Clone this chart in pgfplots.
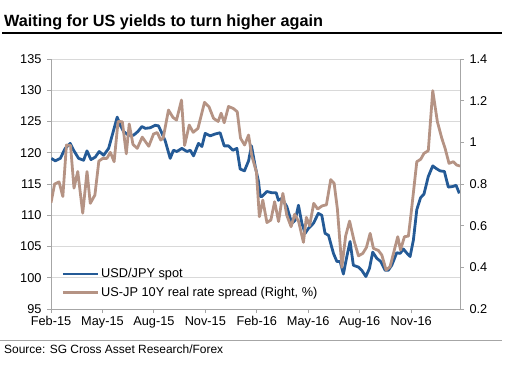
\documentclass[border=0pt]{standalone}
\usepackage{fontspec}
\setmainfont{Liberation Sans}
\usepackage{pgfplots}
\pgfplotsset{compat=1.18}
\definecolor{usdblue}{HTML}{245A96}
\definecolor{spreadbrown}{HTML}{B59384}
\definecolor{axgray}{HTML}{A6A6A6}
\definecolor{gridgray}{HTML}{D9D9D9}

\pgfplotsset{
  commonax/.style={
    at={(51bp,55bp)}, anchor=south west,
    width=409bp, height=250bp, scale only axis,
    xmin=0, xmax=23.85,
    /pgf/number format/assume math mode=true,
    tick label style={font=\fontsize{12.8}{14}\selectfont, text=black},
    tick align=outside, major tick length=4bp,
    tick style={axgray, line width=0.8bp},
    axis line style={axgray, line width=0.9bp},
  }
}

\begin{document}
\begin{tikzpicture}[x=1bp,y=1bp]
\path[use as bounding box] (0,0) rectangle (505,364);
\node[anchor=base west, font=\fontsize{16.3}{18}\selectfont\bfseries, inner sep=0] at (4,338) {Waiting for US yields to turn higher again};
\draw[line width=2.2bp] (2,331) -- (502,331);
\draw[axgray, line width=0.9bp] (0,24) -- (502,24);
\node[anchor=base west, font=\fontsize{12}{14}\selectfont, inner sep=0] at (4,11) {Source: SG Cross Asset Research/Forex};

% left axis: USD/JPY
\begin{axis}[commonax,
  ymin=95, ymax=135, ytick={95,100,...,135},
  xtick={0,3,...,21},
  xticklabels={Feb-15,May-15,Aug-15,Nov-15,Feb-16,May-16,Aug-16,Nov-16},
  axis x line*=bottom, axis y line*=left,
  ymajorgrids, grid style={gridgray, line width=0.9bp},
  yticklabel style={xshift=-2bp},
]
\addplot[usdblue, line width=2.8bp, line join=round] coordinates {
(0.02,119.1)(0.25,118.7)(0.54,119.1)(0.83,120.7)(1.12,121.5)(1.32,120.4)
(1.61,119.1)(1.90,118.8)(2.10,120.3)(2.33,118.9)(2.58,119.3)(2.81,120.2)
(3.07,119.6)(3.36,120.7)(3.65,123.6)(3.86,125.7)(4.04,124.4)(4.23,123.4)
(4.52,122.8)(4.81,122.8)(5.07,123.4)(5.30,124.2)(5.50,123.9)(5.79,124.0)
(6.08,124.4)(6.27,124.3)(6.47,123.1)(6.66,121.9)(6.95,119.1)(7.14,120.4)
(7.34,120.2)(7.63,120.7)(7.93,120.2)(8.12,120.4)(8.31,119.5)(8.60,121.5)
(8.80,121.0)(8.99,123.1)(9.28,122.7)(9.57,123.0)(9.86,123.2)(10.10,121.1)
(10.35,121.1)(10.61,120.4)(10.84,120.7)(11.03,117.4)(11.28,117.1)(11.52,118.7)
(11.69,121.1)(11.91,117.8)(12.10,115.4)(12.20,113.0)(12.30,113.0)(12.59,113.8)
(12.88,113.6)(13.13,113.6)(13.26,112.4)(13.46,112.7)(13.75,111.4)(14.04,108.7)
(14.24,109.2)(14.43,111.6)(14.63,108.7)(14.82,107.1)(15.01,107.9)(15.30,108.7)
(15.59,110.3)(15.79,110.0)(15.98,107.1)(16.18,106.8)(16.47,103.9)(16.67,102.6)
(16.86,102.6)(17.05,100.6)(17.25,103.4)(17.44,105.8)(17.63,102.0)(17.93,101.7)
(18.12,101.2)(18.36,100.2)(18.57,101.5)(18.76,104.1)(19.00,103.1)(19.23,102.6)
(19.48,101.2)(19.67,101.2)(19.87,102.0)(20.16,104.0)(20.36,103.9)(20.55,104.6)
(20.73,104.0)(20.94,103.4)(21.13,106.0)(21.33,110.9)(21.55,112.8)(21.75,113.4)
(22.00,116.2)(22.26,117.9)(22.45,117.5)(22.69,117.1)(22.94,117.0)(23.17,114.5)
(23.43,114.6)(23.62,114.8)(23.81,113.5)
};
\end{axis}

% right axis: real rate spread
\begin{axis}[commonax,
  ymin=0.2, ymax=1.4, ytick={0.2,0.4,...,1.4},
  yticklabel style={/pgf/number format/fixed, /pgf/number format/precision=1, xshift=2bp},
  axis x line=none, axis y line*=right,
  legend cell align=left,
  legend style={draw=none, fill=none, at={(0.025,0.035)}, anchor=south west,
    font=\fontsize{12.8}{14}\selectfont, row sep=4bp, inner sep=0pt},
  legend image code/.code={\draw[#1] (0bp,0bp) -- (35bp,0bp);},
]
\addlegendimage{usdblue, line width=2.8bp}
\addlegendentry{USD/JPY spot}
\addplot[spreadbrown, line width=2.8bp, line join=round] coordinates {
(0,0.71)(0.21,0.80)(0.47,0.81)(0.69,0.74)(0.90,0.987)(1.14,0.985)
(1.34,0.78)(1.56,0.86)(1.85,0.66)(2.10,0.86)(2.29,0.707)(2.56,0.747)
(2.79,0.91)(3.02,0.923)(3.26,0.923)(3.46,0.952)(3.68,0.907)(3.91,1.10)
(4.16,1.099)(4.39,0.945)(4.56,1.088)(4.78,0.99)(5.03,0.971)(5.32,1.025)
(5.70,0.981)(5.98,1.04)(6.19,1.047)(6.40,1.011)(6.54,1.02)(6.85,1.155)
(7.11,1.12)(7.32,1.107)(7.61,1.203)(7.79,0.985)(8.06,1.083)(8.29,1.048)
(8.57,1.067)(8.95,1.192)(9.21,1.171)(9.48,1.115)(9.75,1.10)(9.92,1.14)
(10.10,1.094)(10.35,1.172)(10.62,1.163)(10.86,1.147)(11.05,1.02)(11.29,0.987)
(11.52,1.035)(11.71,0.935)(11.98,0.857)(12.15,0.643)(12.35,0.723)(12.59,0.615)
(12.82,0.627)(13.04,0.715)(13.27,0.62)(13.52,0.755)(13.75,0.65)(14.00,0.595)
(14.21,0.655)(14.44,0.62)(14.72,0.52)(14.89,0.64)(15.08,0.60)(15.32,0.707)
(15.55,0.68)(15.81,0.695)(16.06,0.70)(16.31,0.821)(16.51,0.803)(16.70,0.68)
(16.96,0.40)(17.18,0.55)(17.41,0.622)(17.68,0.525)(17.93,0.455)(18.18,0.467)
(18.39,0.495)(18.61,0.563)(18.80,0.491)(19.09,0.481)(19.29,0.459)(19.54,0.387)
(19.77,0.403)(20.02,0.483)(20.22,0.547)(20.38,0.483)(20.61,0.547)(20.84,0.55)
(21.00,0.66)(21.33,0.907)(21.56,0.919)(21.75,0.947)(22.00,0.96)(22.26,1.248)
(22.53,1.099)(22.79,1.019)(22.98,0.971)(23.21,0.899)(23.46,0.907)(23.66,0.891)
(23.85,0.886)
};
\addlegendentry{US-JP 10Y real rate spread (Right, \%)}
\end{axis}
\end{tikzpicture}
\end{document}
